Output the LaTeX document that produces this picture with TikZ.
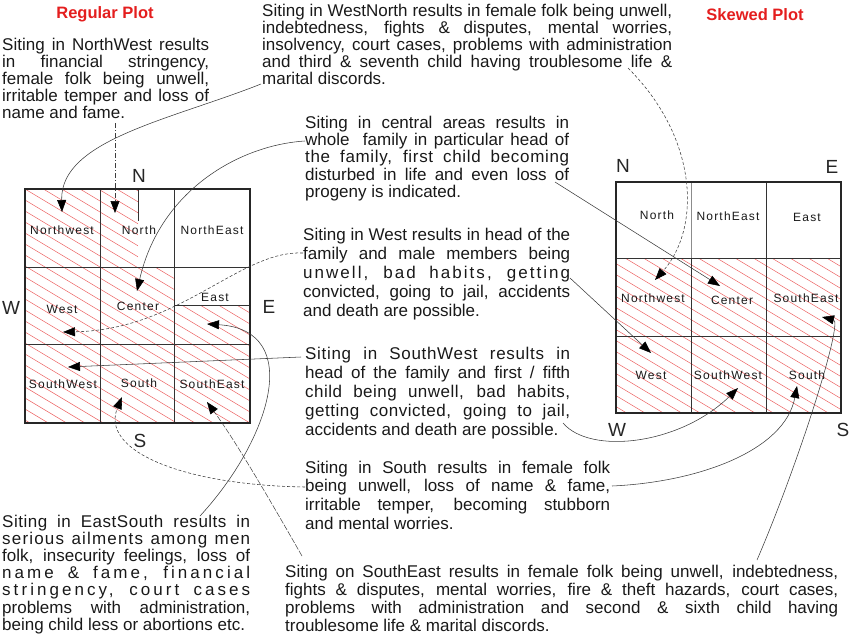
\documentclass[tikz,border=0pt]{standalone}
\usepackage{fontspec}
\setmainfont{Liberation Sans}
\newfontfamily\gridfont[LetterSpace=10]{Liberation Sans}
\usetikzlibrary{arrows.meta}
\definecolor{ttlred}{RGB}{228,30,30}
\definecolor{hatred}{RGB}{235,90,90}
\definecolor{conncol}{RGB}{60,60,60}
\newcommand\jb[2]{\makebox[#1pt][s]{#2}}
\newcommand\jbl[3]{\makebox[#1pt][s]{\addfontfeature{LetterSpace=#2}#3}}
\begin{document}
\begin{tikzpicture}[x=1pt,y=-1pt,
  txt/.style={anchor=north west,inner sep=0pt,align=left,text=black!90},
  cell/.style={font=\gridfont\fontsize{12}{12}\selectfont,inner sep=0pt,text=black!90},
  compass/.style={font=\fontsize{19}{19}\selectfont,inner sep=0pt,text=black!85},
  title/.style={font=\bfseries\fontsize{16.5}{16.5}\selectfont,text=ttlred,inner sep=0pt},
  hatchline/.style={hatred,line width=0.5pt},
  gridline/.style={line width=0.9pt,black!80},
  border/.style={line width=2.2pt,black!85},
  conn/.style={conncol,line width=0.55pt},
  dconn/.style={conncol,line width=0.55pt,dash pattern=on 3pt off 2pt},
  arr/.style={-{Triangle[length=12pt,width=9pt,color=black]}},
]
\useasboundingbox (0,0) rectangle (850,635);

% titles
\node[title] (t1) at (105,14) {Regular Plot};
\node[title] (t2) at (755,15) {Skewed Plot};

% ---------- hatching ----------
\begin{scope}
\clip (25,189) rectangle (138,267) (25,267) rectangle (174,344)
      (174,305) rectangle (250,344) (25,344) rectangle (250,423);
\foreach \c in {20,31,...,420} \draw[hatchline] (0,\c) -- (900,\c+540);
\end{scope}
\begin{scope}
\clip (616,258) rectangle (841,413);
\foreach \c in {-260,-249,...,60} \draw[hatchline] (0,\c) -- (900,\c+540);
\end{scope}

% ---------- left grid ----------
\draw[gridline] (100,189) -- (100,423) (174,189) -- (174,423)
  (25,267) -- (250,267) (25,344) -- (250,344)
  (138,189) -- (138,221) (174,305) -- (250,305);
\draw[border] (25,189) rectangle (250,423);

\node[cell] (lNW) at (62,230) {Northwest};
\node[cell] (lN) at (139,230) {North};
\node[cell] (lNE) at (212,230) {NorthEast};
\node[cell] (lW) at (62,309) {West};
\node[cell] (lC) at (138,306) {Center};
\node[cell] (lE) at (215,297) {East};
\node[cell] (lSW) at (63,384) {SouthWest};
\node[cell] (lS) at (139,383) {South};
\node[cell] (lSE) at (212,384) {SouthEast};

\node[compass] (cN1) at (139,176) {N};
\node[compass] (cW1) at (11,308) {W};
\node[compass] (cE1) at (269,307) {E};
\node[compass] (cS1) at (140,441) {S};

% ---------- right grid ----------
\draw[gridline,black!45] (691,182) -- (691,258);
\draw[gridline] (691,258) -- (691,413) (766,182) -- (766,413)
  (616,258) -- (841,258) (616,336) -- (841,336);
\draw[border] (616,182) rectangle (841,413);

\node[cell] (rN) at (657,215) {North};
\node[cell] (rNE) at (728,216) {NorthEast};
\node[cell] (rE) at (807,217) {East};
\node[cell] (rNW) at (653,298) {Northwest};
\node[cell] (rC) at (732,300) {Center};
\node[cell] (rSE) at (806,298) {SouthEast};
\node[cell] (rW) at (651,375) {West};
\node[cell] (rSW) at (728,375) {SouthWest};
\node[cell] (rS) at (807,375) {South};

\node[compass] (cN2) at (623,166) {N};
\node[compass] (cE2) at (832,167) {E};
\node[compass] (cW2) at (617,430) {W};
\node[compass] (cS2) at (843,430) {S};

% ---------- text blocks ----------
\node[txt,font=\fontsize{17}{17.2}\selectfont] (bNW) at (2,37.5) {%
\jb{207}{Siting in NorthWest results}\\
\jb{207}{in financial stringency,}\\
\jb{207}{female folk being unwell,}\\
\jb{207}{irritable temper and loss of}\\
name and fame.};

\node[txt,font=\fontsize{17}{17.2}\selectfont] (bWN) at (262,3.5) {%
\jb{410}{Siting in WestNorth results in female folk being unwell,}\\
\jb{410}{indebtedness, fights \& disputes, mental worries,}\\
\jb{410}{insolvency, court cases, problems with administration}\\
\jb{410}{and third \& seventh child having troublesome life \&}\\
marital discords.};

\node[txt,font=\fontsize{17}{17.2}\selectfont] (bC) at (305,116) {%
\jb{264}{Siting in central areas results in}\\
\jb{264}{whole\ \ family in particular head of}\\
\jbl{264}{4}{the family, first child becoming}\\
\jb{264}{disturbed in life and even loss of}\\
progeny is indicated.};

\node[txt,font=\fontsize{17}{19}\selectfont] (bW) at (303,227.5) {%
\jb{267}{Siting in West results in head of the}\\
\jb{267}{family and male members being}\\
\jbl{267}{12}{unwell, bad habits, getting}\\
\jb{267}{convicted, going to jail, accidents}\\
and death are possible.};

\node[txt,font=\fontsize{17}{19}\selectfont] (bSW) at (305,346.5) {%
\jbl{265}{4}{Siting in SouthWest results in}\\
\jb{265}{head of the family and first / fifth}\\
\jbl{265}{3}{child being unwell, bad habits,}\\
\jbl{265}{3}{getting convicted, going to jail,}\\
accidents and death are possible.};

\node[txt,font=\fontsize{17}{18.7}\selectfont] (bS) at (305,460.5) {%
\jb{305}{Siting in South results in female folk}\\
\jb{305}{being unwell, loss of name \& fame,}\\
\jb{305}{irritable temper, becoming stubborn}\\
and mental worries.};

\node[txt,font=\fontsize{17}{18.3}\selectfont] (bSE) at (285,564.5) {%
\jb{553}{Siting on SouthEast results in female folk being unwell, indebtedness,}\\
\jb{553}{fights \& disputes, mental worries, fire \& theft hazards, court cases,}\\
\jb{553}{problems with administration and second \& sixth child having}\\
troublesome life \& marital discords.};

\node[txt,font=\fontsize{17}{17.2}\selectfont] (bES) at (2,514.5) {%
\jbl{248}{3}{Siting in EastSouth results in}\\
\jbl{248}{7}{serious ailments among men}\\
\jb{248}{folk, insecurity feelings, loss of}\\
\jbl{248}{18}{name \& fame, financial}\\
\jbl{248}{18}{stringency, court cases}\\
\jb{248}{problems with administration,}\\
being child less or abortions etc.};

% ---------- connector end points ----------
\coordinate (sWN1) at (261,84);   \coordinate (tNW1) at (62,212);
\coordinate (sNW) at (115,123);   \coordinate (tN1) at (115,213);
\coordinate (sC1) at (305,141);   \coordinate (tC1) at (137,291);
\coordinate (sW1) at (303,253);   \coordinate (tW1) at (63,332);
\coordinate (sSW1) at (301,357);  \coordinate (tSW1) at (68,367);
\coordinate (sS1) at (305,487);   \coordinate (tS1) at (122,397);
\coordinate (sSE1) at (302,556);  \coordinate (tSE1) at (207,402);
\coordinate (sES) at (200,516);   \coordinate (tE1) at (207,324);
\coordinate (sWN2) at (628,68);   \coordinate (tNW2) at (655,280);
\coordinate (sC2) at (555,182);   \coordinate (tC2) at (720,286);
\coordinate (sW2) at (570,278);   \coordinate (tW2) at (651,353);
\coordinate (sSW2) at (563,423);  \coordinate (tSW2) at (738,388);
\coordinate (sS2) at (612,486);   \coordinate (tS2) at (797,386);
\coordinate (sSE2) at (757,560);  \coordinate (tSE2) at (822,317);

% ---------- connectors ----------
\draw[conn,arr] (sWN1) .. controls (170,120) and (60,140) .. (tNW1);
\draw[conncol,line width=0.55pt,dash pattern=on 5pt off 2pt on 1pt off 2pt,arr] (sNW) -- (tN1);
\draw[conn,arr] (sC1) .. controls (240,145) and (160,190) .. (tC1);
\draw[dconn,arr] (sW1) .. controls (240,250) and (180,330) .. (tW1);
\draw[conn,arr] (sSW1) -- (tSW1);
\draw[dconn,arr] (sS1) .. controls (180,485) and (100,450) .. (tS1);
\draw[conncol,line width=0.5pt,dash pattern=on 6pt off 1.5pt,arr] (sSE1) .. controls (270,500) and (235,440) .. (tSE1);
\draw[conn,arr] (sES) .. controls (270,440) and (305,330) .. (tE1);
\draw[dconn,arr] (sWN2) .. controls (700,140) and (700,230) .. (tNW2);
\draw[conn,arr] (sC2) -- (tC2);
\draw[conn,arr] (sW2) -- (tW2);
\draw[conn,arr] (sSW2) .. controls (590,455) and (680,445) .. (tSW2);
\draw[conn,arr] (sS2) .. controls (700,482) and (785,450) .. (tS2);
\draw[conn,arr] (sSE2) .. controls (800,460) and (843,322) .. (tSE2);
\end{tikzpicture}
\end{document}
